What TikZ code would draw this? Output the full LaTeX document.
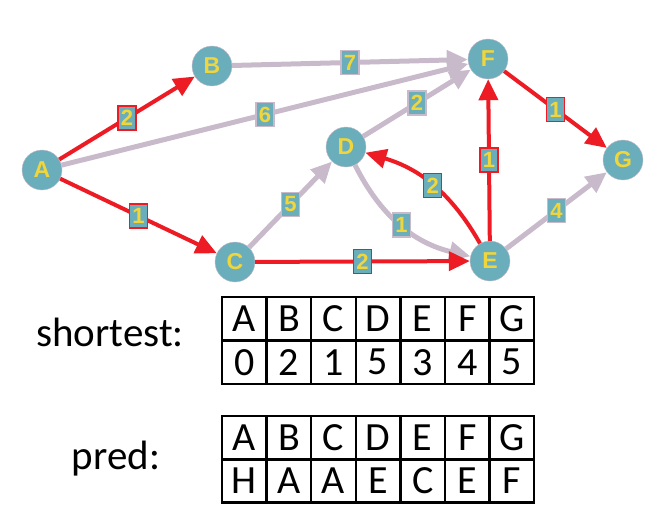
\documentclass[tikz,border=0pt]{standalone}
\usepackage{fontspec}
\setmainfont{Carlito}
\newfontfamily\arialfont{Liberation Sans}
\usetikzlibrary{arrows.meta}

\definecolor{vtxteal}{RGB}{106,174,188}
\definecolor{vtxyellow}{RGB}{240,214,58}
\definecolor{pathred}{RGB}{237,28,36}
\definecolor{edgegray}{RGB}{200,186,202}

\tikzstyle{vertex}=[circle,fill=vtxteal,draw=edgegray,thin,minimum size=40pt,
    inner sep=0pt,text=vtxyellow,font=\arialfont\bfseries\fontsize{23}{23}\selectfont]
\tikzstyle{weight}=[rectangle,fill=vtxteal,draw=edgegray,line width=1.5pt,
    minimum width=18pt,minimum height=24pt,inner sep=0pt,text=vtxyellow,
    font=\arialfont\bfseries\fontsize{22}{22}\selectfont]
\tikzstyle{plain edge}=[edgegray,line width=5pt,-{Triangle[length=21pt,width=19pt]}]
\tikzstyle{path edge}=[pathred,line width=4pt,-{Triangle[length=21pt,width=19pt]}]
\tikzstyle{cell}=[draw,line width=2.5pt,minimum width=44.6pt,minimum height=43.5pt,
    inner sep=0pt,font=\fontsize{40}{40}\selectfont]
\newcommand{\vertex}[2]{
    \node[vertex] at (#1) (#2) {#2};
}
\newcommand{\transition}[4][]{\draw[plain edge,#1] (#2) to node[weight] (w#2#3) {#4} (#3);}
\newcommand{\shortest}[4][]{\draw[path edge,#1] (#2) to node[weight,draw=pathred] (w#2#3) {#4} (#3);}

\begin{document}
\begin{tikzpicture}[x=1pt,y=-1pt]
    \useasboundingbox (0,0) rectangle (665,517);
    \vertex{42,170}{A}
    \vertex{212,66}{B}
    \vertex{235,262}{C}
    \vertex{346,147}{D}
    \vertex{490,261}{E}
    \vertex{488,59}{F}
    \vertex{623,160}{G}

    \transition{A}{F}{6}
    \transition{B}{F}{7}
    \transition{C}{D}{5}
    \transition{D}{F}{2}
    \transition[bend right=25]{D}{E}{1}
    \transition{E}{G}{4}
    \shortest{A}{B}{2}
    \shortest{A}{C}{1}
    \shortest{C}{E}{2}
    \shortest[bend right=22]{E}{D}{2}
    \shortest{E}{F}{1}
    \shortest{F}{G}{1}

    % tables
    \node[anchor=base,font=\fontsize{41}{41}\selectfont] (shortlabel) at (110,346) {shortest:};
    \node[anchor=base,font=\fontsize{41}{41}\selectfont] (predlabel) at (116,469) {pred:};
    \foreach \name/\dist/\prev [count=\i] in {A/0/H,B/2/A,C/1/A,D/5/E,E/3/C,F/4/E,G/5/F}{
        \node[cell] (sh\i) at (222+44.6*\i-22.3,318.75) {\name};
        \node[cell] (sd\i) at (222+44.6*\i-22.3,362.25) {\dist};
        \node[cell] (ph\i) at (222+44.6*\i-22.3,437.5) {\name};
        \node[cell] (pv\i) at (222+44.6*\i-22.3,480.5) {\prev};
    }
\end{tikzpicture}
\end{document}
